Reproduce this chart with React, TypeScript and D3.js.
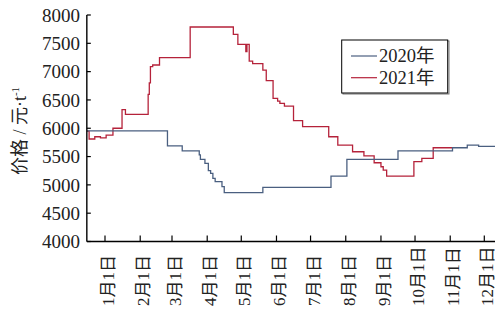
import React from 'react';
import * as d3 from 'd3';

// x 轴：以 1 月 1 日为第 0 天
const monthLabels = ['1月1日', '2月1日', '3月1日', '4月1日', '5月1日', '6月1日', '7月1日', '8月1日', '9月1日', '10月1日', '11月1日', '12月1日'];
const monthStartDays = [0, 31, 59, 90, 120, 151, 181, 212, 243, 273, 304, 334];
const yTicks = [4000, 4500, 5000, 5500, 6000, 6500, 7000, 7500, 8000];

// 2020年 价格变动点（天, 元/t）
const days2020 = [-16, 55, 68, 83, 84, 88, 91, 93, 95, 97, 103, 105, 139, 199, 213, 258, 306, 319, 329, 365];
const price2020 = [5955, 5690, 5602, 5530, 5450, 5380, 5250, 5203, 5115, 5056, 4968, 4862, 4956, 5155, 5450, 5602, 5656, 5703, 5680, 5680];

// 2021年
const days2021 = [-16, -14, -9, -4, 1, 7, 15, 18, 38, 39, 40, 42, 48, 75, 113, 117, 124, 125, 127, 130, 139, 142, 148, 152, 154, 158, 166, 174, 197, 205, 218, 228, 237, 243, 245, 248, 272, 279, 289, 306];
const price2021 = [5950, 5810, 5850, 5830, 5880, 6000, 6330, 6245, 6600, 6800, 7087, 7117, 7246, 7788, 7659, 7482, 7352, 7482, 7187, 7140, 7028, 6840, 6528, 6480, 6440, 6392, 6133, 6027, 5850, 5703, 5585, 5512, 5391, 5320, 5261, 5155, 5409, 5468, 5656, 5656];

const seriesNames = ['2020年', '2021年'];
const seriesColors = ['#4a5f80', '#b5223a'];

const W = 495;
const H = 312;
const serif = "'Liberation Serif', 'Noto Sans CJK SC', serif";

const App = () => {
  const x = d3.scaleLinear().domain([0, 334]).range([105, 484.3]);
  const y = d3.scaleLinear().domain([4000, 8000]).range([241.5, 15]);
  const x0 = x(-16);

  const line = d3.line<[number, number]>()
    .x(d => x(d[0]))
    .y(d => y(d[1]))
    .curve(d3.curveStepAfter);

  const s2020 = days2020.map((d, i) => [d, price2020[i]] as [number, number]);
  const s2021 = days2021.map((d, i) => [d, price2021[i]] as [number, number]);

  return (
    <svg width={W} height={H} style={{ position: 'absolute', left: 0, top: 0, background: '#fff' }}
      fontFamily={serif}>
      <defs>
        <clipPath id="plot">
          <rect x={x0} y={0} width={W - x0} height={242} />
        </clipPath>
      </defs>

      {/* lines */}
      <g clipPath="url(#plot)" fill="none" strokeWidth={1.3}>
        <path d={line(s2021) || ''} stroke={seriesColors[1]} />
        <path d={line(s2020) || ''} stroke={seriesColors[0]} />
      </g>

      {/* y axis */}
      <line x1={x0} x2={x0} y1={y(8000)} y2={y(4000)} stroke="#000" strokeWidth={1.4} />
      {yTicks.map(t => (
        <g key={t}>
          <line x1={x0} x2={x0 + 4} y1={y(t)} y2={y(t)} stroke="#000" strokeWidth={1.2} />
          <text x={80} y={y(t)} dy="0.35em" textAnchor="end" fontSize={19} fill="#222">{t}</text>
        </g>
      ))}

      {/* x axis */}
      <line x1={x0} x2={W} y1={y(4000)} y2={y(4000)} stroke="#000" strokeWidth={1.4} />
      {monthStartDays.map((d, i) => (
        <g key={d}>
          <line x1={x(d)} x2={x(d)} y1={y(4000)} y2={y(4000) - 6} stroke="#000" strokeWidth={1.2} />
          <text transform={`translate(${x(d) + 3},${306}) rotate(-90)`} dy="0.35em" textAnchor="start"
            fontSize={17} fill="#222">{monthLabels[i]}</text>
        </g>
      ))}

      {/* y title */}
      <text transform="translate(20,131) rotate(-90)" dy="0.35em" textAnchor="middle" fontSize={18} fill="#222">
        价格 / 元·t<tspan fontSize={11} dy="-7">-1</tspan>
      </text>

      {/* legend */}
      <rect x={343} y={41} width={106} height={53} fill="none" stroke="#777" strokeWidth={1} />
      <rect x={341.7} y={40} width={106} height={53} fill="#fff" stroke="#000" strokeWidth={1} />
      {seriesNames.map((n, i) => (
        <g key={n}>
          <line x1={351} x2={377} y1={56 + i * 21.7} y2={56 + i * 21.7} stroke={seriesColors[i]} strokeWidth={1.2} />
          <text x={379} y={56 + i * 21.7} dy="0.35em" fontSize={18.5} fill="#222">{n}</text>
        </g>
      ))}
    </svg>
  );
};

export default App;
